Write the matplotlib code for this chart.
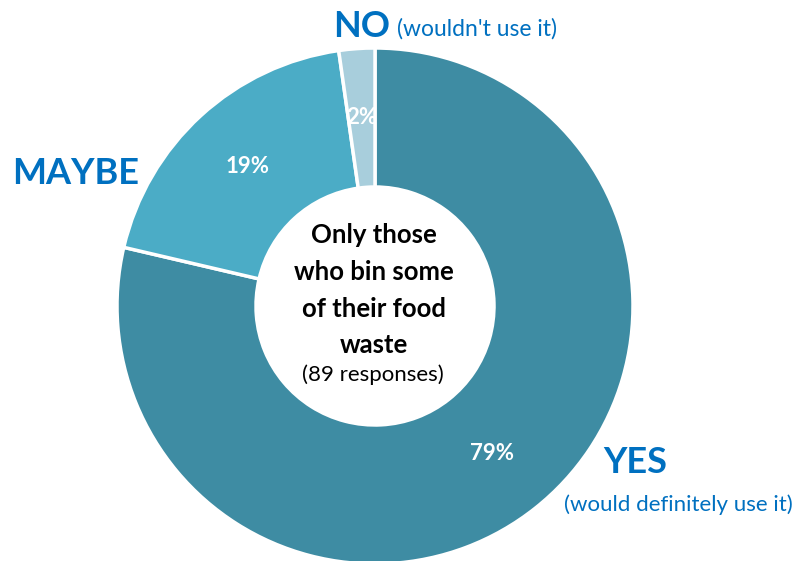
import matplotlib
matplotlib.use("Agg")
import matplotlib.pyplot as plt

# Survey answers (counts out of 89 responses)
categories = ["YES", "MAYBE", "NO"]
responses = [70, 17, 2]
colors = ["#3E8CA3", "#4BACC6", "#A8CEDC"]

W, H = 796, 561
fig = plt.figure(figsize=(W / 100, H / 100), dpi=100)
ax = fig.add_axes([0, 0, 1, 1])

FONT = ["Lato", "DejaVu Sans"]
BLUE = "#0070C0"

cx, cy = 375, H - 306
r_out, r_in = 258, 119

wedges, _, pcts = ax.pie(
    responses,
    colors=colors,
    startangle=90,
    counterclock=False,
    center=(cx, cy),
    radius=r_out,
    autopct=lambda p: f"{p:.0f}%",
    pctdistance=(r_out + r_in) / 2 / r_out,
    wedgeprops=dict(width=r_out - r_in, edgecolor="white", linewidth=2.5),
    textprops=dict(color="white", fontsize=16, fontweight="bold", family=FONT),
    frame=True,
)
ax.set_xlim(0, W)
ax.set_ylim(0, H)
ax.set_aspect("equal")
ax.axis("off")

def px(x, y):
    return x, H - y

# Category labels
ax.text(*px(333, 37), "NO", color=BLUE, fontsize=26, fontweight="bold",
        family=FONT, ha="left", va="baseline")
ax.text(*px(397, 36), "(wouldn't use it)", color=BLUE, fontsize=16.5,
        family=FONT, ha="left", va="baseline")
ax.text(*px(12, 184), "MAYBE", color=BLUE, fontsize=26, fontweight="bold",
        family=FONT, ha="left", va="baseline")
ax.text(*px(603, 473), "YES", color=BLUE, fontsize=26, fontweight="bold",
        family=FONT, ha="left", va="baseline")
ax.text(*px(564, 511), "(would definitely use it)", color=BLUE, fontsize=16,
        family=FONT, ha="left", va="baseline")

# Centre caption
for line, yb in [("Only those", 243), ("who bin some", 280),
                 ("of their food", 317), ("waste", 353)]:
    ax.text(*px(374, yb), line, color="black", fontsize=18.5, fontweight="bold",
            family=FONT, ha="center", va="baseline")
ax.text(*px(373, 381), "(89 responses)", color="black", fontsize=16,
        family=FONT, ha="center", va="baseline")

fig.savefig("out.png", dpi=100, facecolor="white")
